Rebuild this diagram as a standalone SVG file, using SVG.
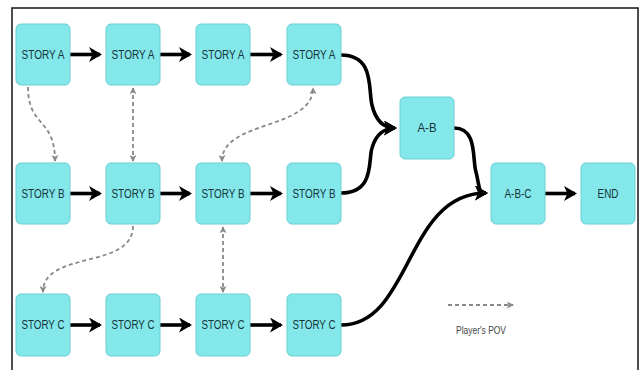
<svg xmlns="http://www.w3.org/2000/svg" width="643" height="370" viewBox="0 0 643 370">
<style>
.node rect{fill:#84e8eb;stroke:#6ccfd3;stroke-width:1}
.node text{font-family:"Liberation Sans",Arial,sans-serif;font-size:12px;fill:#15343a;text-anchor:middle}
.solid{fill:none;stroke:#000;stroke-width:3.6}
.dash{fill:none;stroke:#888;stroke-width:1.8;stroke-dasharray:4 3}
.legend{font-family:"Liberation Sans",Arial,sans-serif;font-size:10.5px;fill:#444;text-anchor:middle}
</style>
<defs>
<marker id="ah" viewBox="0 0 13 15" refX="11" refY="7.5" markerWidth="13" markerHeight="15" markerUnits="userSpaceOnUse" orient="auto">
<path d="M0,0 L13,7.5 L0,15 L3.5,7.5 z" fill="#000"/>
</marker>
<marker id="dh" viewBox="0 0 8 8" refX="7" refY="4" markerWidth="7" markerHeight="7" markerUnits="userSpaceOnUse" orient="auto-start-reverse">
<path d="M0,0 L8,4 L0,8 L2,4 z" fill="#888"/>
</marker>
</defs>
<rect x="12" y="8" width="626" height="370" fill="#fff" stroke="#222" stroke-width="1.6"/>
<g id="connectors">
<path class="solid" d="M69,54.5 L100,54.5" marker-end="url(#ah)"/>
<path class="solid" d="M159,54.5 L190,54.5" marker-end="url(#ah)"/>
<path class="solid" d="M250,54.5 L281,54.5" marker-end="url(#ah)"/>
<path class="solid" d="M69,193.5 L100,193.5" marker-end="url(#ah)"/>
<path class="solid" d="M159,193.5 L190,193.5" marker-end="url(#ah)"/>
<path class="solid" d="M250,193.5 L281,193.5" marker-end="url(#ah)"/>
<path class="solid" d="M69,325 L100,325" marker-end="url(#ah)"/>
<path class="solid" d="M159,325 L190,325" marker-end="url(#ah)"/>
<path class="solid" d="M250,325 L281,325" marker-end="url(#ah)"/>
<path class="solid" d="M341,55 C375,55 368,90 372,105 C376,122 385,128 395,128" marker-end="url(#ah)"/>
<path class="solid" d="M341,193 C375,193 368,160 372,148 C376,134 385,128 395,128" marker-end="url(#ah)"/>
<path class="solid" d="M454,128 C478,128 472,160 476,172 C480,188 478,193 486,193" marker-end="url(#ah)"/>
<path class="solid" d="M341,325 C412,325 405,193 486,193" marker-end="url(#ah)"/>
<path class="solid" d="M544,193.5 L575,193.5" marker-end="url(#ah)"/>
<path class="dash" d="M28,87 C28,128 55,117 55,161" marker-end="url(#dh)"/>
<path class="dash" d="M133,88 L133,161" marker-start="url(#dh)" marker-end="url(#dh)"/>
<path class="dash" d="M222,161 C222,120 313,130 313,88" marker-start="url(#dh)" marker-end="url(#dh)"/>
<path class="dash" d="M133,226 C133,270 43,250 43,292" marker-end="url(#dh)"/>
<path class="dash" d="M223,227 L223,292" marker-start="url(#dh)" marker-end="url(#dh)"/>
<path class="dash" d="M448,305 L513,305" marker-end="url(#dh)"/>
</g>
<text class="legend" x="481" y="334" textLength="50" lengthAdjust="spacingAndGlyphs">Player's POV</text>
<g id="a1" class="node"><rect x="16" y="24" width="54" height="61" rx="5"/><text x="43" y="59" textLength="43" lengthAdjust="spacingAndGlyphs">STORY A</text></g>
<g id="a2" class="node"><rect x="106" y="24" width="54" height="61" rx="5"/><text x="133" y="59" textLength="43" lengthAdjust="spacingAndGlyphs">STORY A</text></g>
<g id="a3" class="node"><rect x="196" y="24" width="54" height="61" rx="5"/><text x="223" y="59" textLength="43" lengthAdjust="spacingAndGlyphs">STORY A</text></g>
<g id="a4" class="node"><rect x="287" y="24" width="54" height="61" rx="5"/><text x="314" y="59" textLength="43" lengthAdjust="spacingAndGlyphs">STORY A</text></g>
<g id="b1" class="node"><rect x="16" y="163" width="54" height="61" rx="5"/><text x="43" y="198" textLength="43" lengthAdjust="spacingAndGlyphs">STORY B</text></g>
<g id="b2" class="node"><rect x="106" y="163" width="54" height="61" rx="5"/><text x="133" y="198" textLength="43" lengthAdjust="spacingAndGlyphs">STORY B</text></g>
<g id="b3" class="node"><rect x="196" y="163" width="54" height="61" rx="5"/><text x="223" y="198" textLength="43" lengthAdjust="spacingAndGlyphs">STORY B</text></g>
<g id="b4" class="node"><rect x="287" y="163" width="54" height="61" rx="5"/><text x="314" y="198" textLength="43" lengthAdjust="spacingAndGlyphs">STORY B</text></g>
<g id="c1" class="node"><rect x="16" y="294" width="54" height="62" rx="5"/><text x="43" y="329" textLength="43" lengthAdjust="spacingAndGlyphs">STORY C</text></g>
<g id="c2" class="node"><rect x="106" y="294" width="54" height="62" rx="5"/><text x="133" y="329" textLength="43" lengthAdjust="spacingAndGlyphs">STORY C</text></g>
<g id="c3" class="node"><rect x="196" y="294" width="54" height="62" rx="5"/><text x="223" y="329" textLength="43" lengthAdjust="spacingAndGlyphs">STORY C</text></g>
<g id="c4" class="node"><rect x="287" y="294" width="54" height="62" rx="5"/><text x="314" y="329" textLength="43" lengthAdjust="spacingAndGlyphs">STORY C</text></g>
<g id="ab" class="node"><rect x="400" y="97" width="54" height="62" rx="5"/><text x="427" y="132" textLength="19" lengthAdjust="spacingAndGlyphs">A-B</text></g>
<g id="abc" class="node"><rect x="491" y="163" width="54" height="61" rx="5"/><text x="518" y="198" textLength="27" lengthAdjust="spacingAndGlyphs">A-B-C</text></g>
<g id="end" class="node"><rect x="581" y="163" width="54" height="61" rx="5"/><text x="608" y="198" textLength="21" lengthAdjust="spacingAndGlyphs">END</text></g>
</svg>
